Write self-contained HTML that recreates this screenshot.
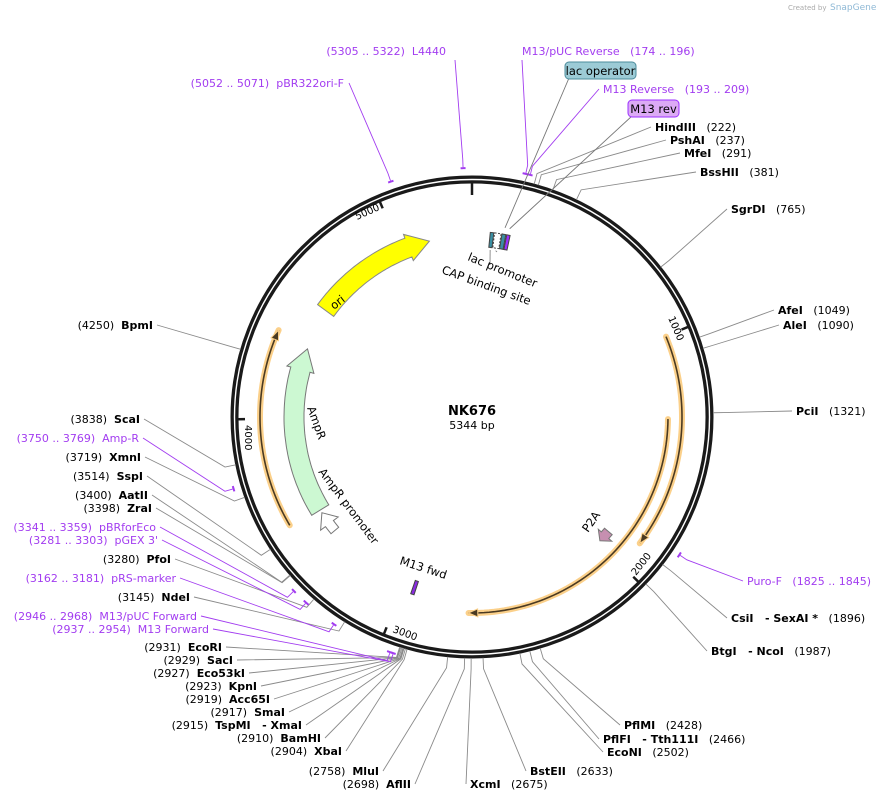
<!DOCTYPE html>
<html><head><meta charset="utf-8">
<style>
html,body{margin:0;padding:0;background:#fff;}
svg{display:block;font-family:"DejaVu Sans","Liberation Sans",sans-serif;}
text{white-space:pre;}
</style></head>
<body>
<svg id="map" width="890" height="801" viewBox="0 0 890 801" xmlns="http://www.w3.org/2000/svg">
  <text x="788" y="10" font-size="7" fill="#aaa">Created by</text>
  <text x="830" y="10" font-size="9" fill="#8fb9d6">SnapGene</text>
  <g id="ringG"></g>
  <g id="featG"></g>
  <g id="lineG"></g>
  <g id="labelG"></g>
  <text x="472" y="415" font-size="13" font-weight="bold" text-anchor="middle">NK676</text>
  <text x="472" y="429" font-size="11" text-anchor="middle">5344 bp</text>
</svg>
<script>
const TOTAL = 5344;
const cx = 472, cy = 417, R = 237.5;

// restriction sites
const siteNames = ["HindIII","PshAI","MfeI","BssHII","SgrDI","AfeI","AleI","PciI","CsiI   - SexAI *","BtgI   - NcoI","PflMI","PflFI   - Tth111I","EcoNI","BstEII","XcmI","AflII","MluI","XbaI","BamHI","TspMI   - XmaI","SmaI","Acc65I","KpnI","Eco53kI","SacI","EcoRI","NdeI","PfoI","ZraI","AatII","SspI","XmnI","ScaI","BpmI"];
const sitePos = [222,237,291,381,765,1049,1090,1321,1896,1987,2428,2466,2502,2633,2675,2698,2758,2904,2910,2915,2917,2919,2923,2927,2929,2931,3145,3280,3398,3400,3514,3719,3838,4250];
// label layout [x, y, anchor]
const siteLayout = [[655,131,"s"],[670,144,"s"],[684,157,"s"],[700,176,"s"],[731,213,"s"],[778,314,"s"],[783,329,"s"],[796,415,"s"],[731,622,"s"],[711,655,"s"],[624,729,"s"],[603,743,"s"],[607,756,"s"],[530,775,"s"],[470,788,"s"],[411,788,"e"],[379,775,"e"],[342,755,"e"],[321,742,"e"],[302,729,"e"],[285,716,"e"],[270,703,"e"],[257,690,"e"],[245,677,"e"],[233,664,"e"],[222,651,"e"],[190,601,"e"],[171,563,"e"],[152,512,"e"],[148,499,"e"],[143,480,"e"],[141,461,"e"],[140,423,"e"],[153,329,"e"]];

// primers
const primerNames = ["M13/pUC Reverse","M13 Reverse","Puro-F","M13/pUC Forward","M13 Forward","pRS-marker","pGEX 3'","pBRforEco","Amp-R","pBR322ori-F","L4440"];
const primerStart = [174,193,1825,2946,2937,3162,3281,3341,3750,5052,5305];
const primerEnd = [196,209,1845,2968,2954,3181,3303,3359,3769,5071,5322];
const primerLayout = [[522,55,"s"],[603,93,"s"],[747,585,"s"],[197,620,"e"],[209,633,"e"],[176,582,"e"],[158,544,"e"],[156,531,"e"],[139,442,"e"],[344,87,"e"],[446,55,"e"]];

// features
const featNames = ["ori","AmpR","AmpR promoter","P2A","CAP binding site","lac promoter","lac operator","M13 rev","M13 fwd"];
const featStart = [4543,3540,3420,1930,84,104,138,160,2940];
const featEnd = [5142,4342,3525,1990,100,134,156,176,2956];
const featRev = [0,0,0,0,0,0,0,0,0];

// ORFs
const orfStart = [1002,1345,3552];
const orfEnd = [1885,2687,4367];
const orfRev = [0,0,0];
const orfRadius = [210,196,212];

const NS = "http://www.w3.org/2000/svg";
function ang(bp){ return bp / TOTAL * 2 * Math.PI; }
function pt(bp, r){ const a = ang(bp); return [cx + r*Math.sin(a), cy - r*Math.cos(a)]; }
function mk(tag, attrs, parent){
  const e = document.createElementNS(NS, tag);
  for (const k in attrs) e.setAttribute(k, attrs[k]);
  parent.appendChild(e); return e;
}
const ringG = document.getElementById("ringG");
const featG = document.getElementById("featG");
const lineG = document.getElementById("lineG");
const labelG = document.getElementById("labelG");

// ring
let c1 = mk("circle", {cx:cx, cy:cy, r:R, fill:"none", stroke:"#1a1a1a", "stroke-width":8}, ringG);


let c2 = mk("circle", {cx:cx, cy:cy, r:R, fill:"none", stroke:"#fff", "stroke-width":1.4}, ringG);



// ticks
const tickVals = [0,1000,2000,3000,4000,5000];
const tickLab = [[0,0,0],[668,318,67],[636,576,-52],[392,632,20],[245,425,90],[357,220,-24]];
tickVals.forEach((v,i)=>{
  const a = pt(v, 234), b = pt(v, i===0 ? 222 : 227);
  const t = mk("line", {x1:a[0],y1:a[1],x2:b[0],y2:b[1],stroke:"#1a1a1a","stroke-width":2.5}, ringG);
  
  
  if (i>0){
    const L = tickLab[i];
    const tx = mk("text", {x:L[0], y:L[1], "font-size":10, transform:`rotate(${L[2]} ${L[0]} ${L[1]})`}, ringG);
    tx.textContent = String(v);
    
    
  }
});

function arcPts(b0, b1, r, n){
  const out=[]; for(let i=0;i<=n;i++){ out.push(pt(b0+(b1-b0)*i/n, r)); } return out;
}
function arrowPoly(s, e, rev, r, w, head, flare){
  const span = e - s;
  const headBp = Math.min(head / (2*Math.PI*r) * TOTAL, span*0.6);
  const n = 40;
  const f = flare === undefined ? 4 : flare;
  let pts;
  if (head === 0){
    pts = arcPts(s, e, r + w/2, 6).concat(arcPts(e, s, r - w/2, 6));
  } else if (!rev){
    const bodyEnd = e - headBp;
    const outer = arcPts(s, bodyEnd, r + w/2, n);
    const inner = arcPts(bodyEnd, s, r - w/2, n);
    pts = outer.concat([pt(bodyEnd, r + w/2 + f), pt(e, r), pt(bodyEnd, r - w/2 - f)], inner);
  } else {
    const bodyStart = s + headBp;
    const outer = arcPts(bodyStart, e, r + w/2, n);
    const inner = arcPts(e, bodyStart, r - w/2, n);
    pts = outer.concat(inner, [pt(bodyStart, r - w/2 - f), pt(s, r), pt(bodyStart, r + w/2 + f)]);
  }
  return pts.map(p=>p[0].toFixed(1)+","+p[1].toFixed(1)).join(" ");
}

// ORFs
orfStart.forEach((s,i)=>{
  const e = orfEnd[i], r = orfRadius[i], rev = orfRev[i];
  const pts = arcPts(s, e, r, 60).map(p=>p.join(",")).join(" ");
  const g = mk("g", {}, featG);
  
  
  mk("polyline", {points:pts, fill:"none", stroke:"#fbd08a", "stroke-width":6, "stroke-linecap":"round"}, g);
  mk("polyline", {points:pts, fill:"none", stroke:"#4a3a22", "stroke-width":1.6}, g);
  const tip = rev ? s : e;
  const back = rev ? s + 40 : e - 40;
  const tp = pt(tip, r), b1 = pt(back, r+4), b2 = pt(back, r-4);
  mk("polygon", {points:`${b1.join(",")} ${tp.join(",")} ${b2.join(",")}`, fill:"#4a3a22", stroke:"#fbd08a", "stroke-width":1}, g);
});

// features
const featStyle = [
  {r:181,w:20,fill:"#ffff00",stroke:"#888",head:22},
  {r:178,w:20,fill:"#ccf8d2",stroke:"#777",head:22},
  {r:178,w:10,fill:"#fff",stroke:"#777",head:14,flare:6},
  {r:178,w:10,fill:"#c68fb0",stroke:"#777",head:8},
  {r:178,w:15,fill:"#3a8fa3",stroke:"#444",head:0},
  {r:178,w:15,fill:"#fff",stroke:"#444",head:0,dash:"2,1.5"},
  {r:178,w:15,fill:"#3a8fa3",stroke:"#444",head:0},
  {r:178,w:15,fill:"#9b30ff",stroke:"#444",head:0},
  {r:180,w:14,fill:"#8a2be2",stroke:"#444",head:0}
];
featNames.forEach((nm,i)=>{
  let s = featStart[i], e = featEnd[i];
  if (e < s) e += TOTAL;
  const st = featStyle[i];
  const pg = mk("polygon", {points:arrowPoly(s, e, featRev[i], st.r, st.w, st.head, st.flare), fill:st.fill, stroke:st.stroke, "stroke-width":1}, featG);
  if (st.dash) pg.setAttribute("stroke-dasharray", st.dash);
  
  
});

// feature labels
const featLabels = [
  ["ori",334,310,-38,"feature-label-ori"],
  ["AmpR",307,408,70,"feature-label-ampr"],
  ["AmpR promoter",318,472,53,"feature-label-ampr-promoter"],
  ["P2A",588,533,-55,"feature-label-p2a"],
  ["lac promoter",467,260,22,"feature-label-lac-promoter"],
  ["CAP binding site",441,273,20,"feature-label-cap-binding-site"],
  ["M13 fwd",399,564,18,"feature-label-m13-fwd"]
];
featLabels.forEach(f=>{
  const t = mk("text", {x:f[1], y:f[2], "font-size":11.5, transform:`rotate(${f[3]} ${f[1]} ${f[2]})`}, labelG);
  t.textContent = f[0];
  
  
});
[[92,168,490,265],[120,168,497,252]].forEach(l=>{
  const a = pt(l[0], l[1]), b = [l[2], l[3]];
  mk("line", {x1:a[0],y1:a[1],x2:b[0],y2:b[1],stroke:"#777","stroke-width":0.8}, lineG);
});

function drawLabel(x, y, anchor, name, pos, color, bold, idx, prefix){
  const t = mk("text", {x:x, y:y, "font-size":11, fill:color, "text-anchor": anchor==="s"?"start":"end"}, labelG);
  const nSpan = document.createElementNS(NS, "tspan");
  nSpan.textContent = name;
  if (bold) nSpan.setAttribute("font-weight", "bold");
  const pSpan = document.createElementNS(NS, "tspan");
  if (anchor === "s"){ pSpan.textContent = "   " + pos; t.appendChild(nSpan); t.appendChild(pSpan); }
  else { pSpan.textContent = pos + "  "; t.appendChild(pSpan); t.appendChild(nSpan); }
  
  
}
function connector(bp, rStart, rElbow, ax, ay, color){
  const a = pt(bp, rStart), b = pt(bp, rElbow);
  return mk("polyline", {points:`${a.join(",")} ${b.join(",")} ${ax},${ay}`, fill:"none", stroke:color, "stroke-width":0.9}, lineG);
}

// sites
siteNames.forEach((nm,i)=>{
  const L = siteLayout[i];
  drawLabel(L[0], L[1], L[2], nm, "(" + sitePos[i] + ")", "#000", true, i, "site");
  const ax = L[2]==="s" ? L[0]-4 : L[0]+4;
  const pl = connector(sitePos[i], 241, 252, ax, L[1]-4, "#8a8a8a");
  
  
});

// primers
const purple = "#a23cf0";
primerNames.forEach((nm,i)=>{
  const L = primerLayout[i];
  drawLabel(L[0], L[1], L[2], nm, "(" + primerStart[i] + " .. " + primerEnd[i] + ")", purple, false, i, "primer");
  const arc = arcPts(primerStart[i], primerEnd[i], 249, 6).map(p=>p.join(",")).join(" ");
  const m = mk("polyline", {points:arc, fill:"none", stroke:purple, "stroke-width":2}, lineG);
  
  
  const mid = (primerStart[i] + primerEnd[i]) / 2;
  let ax, ay;
  if (i===0){ ax = 522; ay = 60; }
  else if (i===9){ ax = 349; ay = 83; }
  else if (i===10){ ax = 455; ay = 60; }
  else { ax = L[2]==="s" ? L[0]-4 : L[0]+4; ay = L[1]-4; }
  const pl = connector(mid, 250, 258, ax, ay, purple);
  
  
});

// boxed feature labels
function box(x, y, w, h, fill, stroke, label, name, fromBp){
  const a = pt(fromBp, 192);
  mk("line", {x1:a[0],y1:a[1],x2:x+4,y2:y+h-1,stroke:"#777","stroke-width":0.9}, lineG);
  const g = mk("g", {}, labelG);
  
  
  mk("rect", {x:x,y:y,width:w,height:h,rx:4,fill:fill,stroke:stroke,"stroke-width":1}, g);
  const t = mk("text", {x:x+w/2, y:y+h-4, "font-size":11.5, "text-anchor":"middle"}, g);
  t.textContent = label;
}
box(565, 62, 71, 17, "#9ccbd6", "#4d8c9c", "lac operator", "lac-operator-box", 147);
box(628, 100, 51, 17, "#dcaaf5", "#9b30ff", "M13 rev", "m13-rev-box", 168);
</script>
</body></html>
